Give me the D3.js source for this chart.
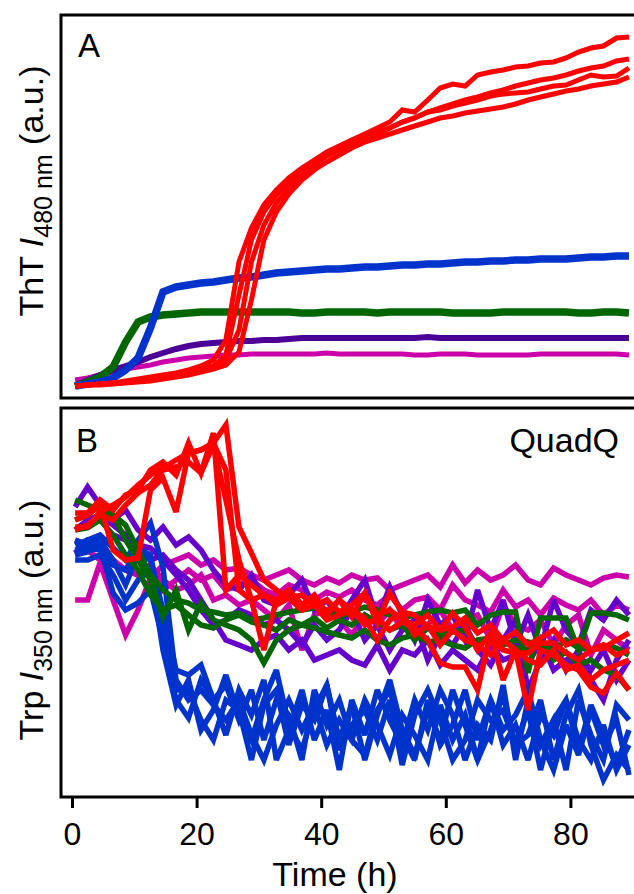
<!DOCTYPE html>
<html>
<head>
<meta charset="utf-8">
<script src="https://cdnjs.cloudflare.com/ajax/libs/d3/7.8.5/d3.min.js"></script>
<style>
  body { margin: 0; background: #fff; }
  svg { display: block; }
  text { font-family: "Liberation Sans", Arial, sans-serif; fill: #000; }
</style>
</head>
<body>
<svg id="chart" width="634" height="894"></svg>
<script>
// sampling times (h)
var times = [0.5, 2.5, 4.5, 6.6, 8.6, 10.6, 12.6, 14.6, 16.7, 18.7,
             20.7, 22.7, 24.7, 26.8, 28.8, 30.8, 32.8, 34.8, 36.9, 38.9,
             40.9, 42.9, 44.9, 47.0, 49.0, 51.0, 53.0, 55.0, 57.1, 59.1,
             61.1, 63.1, 65.1, 67.2, 69.2, 71.2, 73.2, 75.2, 77.3, 79.3,
             81.3, 83.3, 85.3, 87.4, 89.4];
var timeTicks = [0, 20, 40, 60, 80];

// ---- panel A: ThT fluorescence (a.u.)
var thtMagenta = [20, 22, 25, 28, 31, 33, 35, 38, 40, 42, 43, 44, 45, 45,
  46, 46, 46, 46, 46, 46, 47, 46, 46, 46, 46, 46, 46, 45, 45, 46, 46, 46, 45, 45, 45, 45, 45, 46, 46, 46, 46, 46, 46, 46, 45];
var thtPurple = [14, 20, 25, 30, 34, 38, 43, 47, 51, 54, 56, 57, 58, 59, 59, 60, 60, 61,
  62, 62, 62, 62, 62, 62, 62, 62, 62, 62, 63, 62, 62, 62, 62, 62, 62, 62, 62, 62, 62, 62, 62, 62, 62, 62, 62];
var thtGreen = [14, 18, 23, 33, 58, 78, 83, 85, 86, 87,
  88, 88, 88, 88, 88, 88, 88, 88, 87, 87, 88, 88, 88, 88, 87, 88, 88, 88, 88, 88,
  87, 87, 87, 87, 88, 88, 88, 88, 88, 88, 87, 87, 88, 88, 87];
var thtBlue = [14, 16, 18, 22, 30, 42, 72, 108, 113, 115, 117, 118, 120, 122, 123, 125, 127, 128, 129, 130,
  131, 131, 132, 133, 133, 134, 135, 135, 136, 136, 137, 138, 138, 139, 139, 140, 140, 141, 141, 141,
  142, 143, 143, 144, 144];
var thtRed1 = [14, 15, 16, 17, 19, 21, 23, 25, 27, 30, 34, 40, 60, 138, 172, 195, 210, 222, 232, 240,
  248, 254, 260, 266, 272, 278, 290, 288, 300, 312, 316, 314, 325, 328, 330, 333, 334, 337, 338, 342,
  348, 352, 354, 362, 363];
var thtRed2 = [14, 15, 16, 17, 18, 19, 21, 23, 25, 28, 31, 34, 45, 105, 160, 188, 205, 217, 228, 238,
  246, 252, 257, 263, 268, 272, 278, 282, 288, 292, 296, 300, 303, 307, 310, 314, 317, 320, 322, 325,
  329, 332, 334, 339, 341];
var thtRed3 = [14, 15, 16, 17, 18, 19, 20, 22, 24, 26, 29, 32, 40, 70, 138, 175, 197, 212, 224, 235,
  244, 250, 255, 260, 265, 272, 278, 282, 288, 290, 294, 297, 300, 304, 306, 307, 308, 311, 314, 315,
  320, 325, 323, 324, 332];
var thtRed4 = [14, 15, 15, 16, 17, 18, 19, 21, 23, 25, 28, 31, 35, 48, 100, 160, 188, 206, 220, 230,
  238, 245, 252, 258, 262, 266, 270, 274, 278, 282, 284, 287, 289, 291, 293, 296, 300, 303, 306, 309,
  311, 314, 316, 318, 323];

// ---- panel B: Trp fluorescence (a.u.)
var trpMagenta1 = [200, 200, 237, 200, 165, 190, 222, 235, 240, 245, 235, 240, 230, 232, 225, 220, 225, 230, 220, 215,
  222, 217, 225, 220, 222, 210, 215, 220, 225, 213, 235, 217, 230, 220, 225, 235, 220, 215, 232, 225,
  220, 215, 222, 225, 223];
var trpMagenta2 = [260, 255, 250, 240, 230, 225, 235, 210, 220, 230, 220, 225, 210, 215, 220, 210, 205, 215, 210, 200,
  208, 203, 210, 200, 195, 205, 190, 200, 203, 190, 215, 200, 195, 188, 210, 193, 200, 185, 202, 195,
  190, 200, 185, 195, 190];
var trpMagenta3 = [245, 250, 240, 235, 230, 225, 235, 220, 210, 215, 225, 200, 205, 195, 200, 190, 180, 195, 150, 185,
  190, 180, 165, 185, 175, 190, 170, 180, 175, 190, 170, 180, 185, 160, 195, 175, 170, 180, 155, 175,
  185, 145, 170, 160, 150];
var trpPurple1 = [293, 313, 295, 280, 290, 270, 260, 273, 255, 263, 250, 230, 215, 210, 225, 200, 195, 205, 220, 190,
  200, 180, 200, 220, 180, 213, 185, 160, 200, 175, 185, 160, 210, 170, 200, 155, 185, 150, 200, 170,
  155, 190, 180, 200, 185];
var trpPurple2 = [247, 260, 255, 265, 260, 250, 240, 245, 230, 220, 200, 180, 160, 155, 150, 160, 165, 150, 160, 140,
  145, 150, 140, 135, 155, 130, 150, 145, 160, 135, 150, 140, 130, 155, 140, 145, 135, 160, 130, 140,
  145, 130, 150, 120, 140];
var trpPurple3 = [270, 280, 285, 275, 265, 255, 252, 240, 225, 210, 190, 175, 180, 190, 185, 175, 180, 170, 155, 175,
  160, 170, 190, 160, 175, 150, 170, 180, 140, 165, 155, 175, 150, 135, 160, 180, 110, 140, 160, 130,
  150, 120, 100, 140, 160];
var trpBlue1 = [255, 260, 265, 252, 240, 260, 277, 233, 120, 100, 110, 95, 80, 100, 65, 40, 75, 100, 70, 95,
  55, 80, 60, 100, 75, 45, 85, 65, 40, 95, 60, 85, 40, 100, 55, 75, 40, 85, 65, 100,
  60, 40, 75, 30, 55];
var trpBlue2 = [245, 248, 255, 207, 190, 197, 210, 160, 100, 82, 120, 100, 65, 110, 85, 120, 40, 70, 110, 60,
  90, 30, 100, 65, 110, 80, 55, 100, 70, 110, 85, 40, 75, 60, 115, 40, 100, 55, 80, 30,
  100, 65, 40, 95, 80];
var trpBlue3 = [260, 255, 260, 240, 215, 245, 240, 190, 130, 125, 135, 100, 115, 80, 110, 60, 100, 85, 40, 110,
  75, 100, 60, 45, 90, 110, 65, 40, 100, 55, 75, 110, 60, 100, 70, 85, 110, 60, 30, 75,
  45, 90, 55, 80, 25];
var trpBlue4 = [240, 240, 245, 225, 200, 220, 230, 150, 95, 120, 70, 90, 125, 85, 60, 100, 130, 75, 50, 90,
  115, 60, 95, 40, 85, 120, 70, 45, 90, 60, 110, 75, 40, 70, 105, 55, 90, 30, 80, 100,
  50, 95, 65, 35, 70];
var trpBlue5 = [250, 252, 250, 235, 230, 252, 245, 180, 110, 110, 80, 60, 100, 90, 40, 95, 110, 55, 95, 80,
  115, 50, 75, 90, 60, 100, 35, 85, 110, 80, 40, 60, 100, 80, 90, 55, 65, 100, 40, 85,
  110, 55, 20, 45, 30];
var trpGreen1 = [300, 295, 290, 285, 275, 250, 225, 210, 200, 197, 190, 188, 185, 187, 180, 182, 185, 188, 190, 192,
  188, 183, 188, 193, 190, 185, 182, 185, 188, 190, 187, 190, 175, 185, 188, 188, 127, 182, 182, 182,
  150, 187, 187, 185, 180];
var trpGreen2 = [280, 285, 295, 285, 260, 240, 220, 183, 210, 170, 197, 180, 175, 170, 160, 137, 160, 170, 175, 172,
  168, 165, 162, 170, 160, 155, 162, 165, 158, 160, 155, 152, 160, 162, 155, 160, 158, 155, 150, 160,
  152, 150, 155, 152, 145];
var trpGreen3 = [270, 272, 280, 265, 245, 230, 205, 190, 195, 185, 175, 172, 180, 185, 178, 175, 170, 180, 175, 182,
  172, 180, 175, 185, 178, 170, 175, 160, 172, 165, 168, 170, 155, 162, 160, 152, 150, 160, 140, 148,
  135, 140, 130, 125, 110];
var trpRed1 = [273, 273, 288, 295, 303, 315, 325, 332, 340, 347, 350, 357, 375, 273, 247, 220, 210, 202, 205, 195,
  200, 188, 195, 207, 185, 190, 180, 175, 185, 170, 173, 182, 167, 175, 160, 168, 155, 162, 170, 155,
  160, 150, 155, 145, 150];
var trpRed2 = [287, 287, 300, 290, 305, 310, 330, 338, 325, 357, 327, 367, 210, 225, 215, 205, 200, 210, 195, 202,
  188, 200, 183, 207, 177, 207, 188, 185, 173, 170, 187, 173, 150, 167, 150, 147, 147, 157, 157, 147,
  140, 150, 152, 160, 167];
var trpRed3 = [280, 285, 295, 250, 240, 242, 310, 322, 288, 347, 350, 357, 330, 210, 200, 205, 195, 202, 190, 195,
  180, 185, 190, 175, 182, 170, 178, 172, 160, 137, 133, 133, 110, 167, 120, 150, 90, 150, 145, 135,
  130, 113, 107, 127, 110];
var trpRed4 = [270, 275, 285, 280, 295, 307, 315, 330, 333, 338, 327, 355, 300, 240, 200, 150, 200, 210, 195, 205,
  185, 200, 190, 182, 160, 180, 187, 165, 175, 155, 170, 160, 155, 145, 160, 150, 140, 135, 150, 130,
  135, 120, 130, 135, 140];

var RED = '#ff0000', BLUE = '#0033cc', GREEN = '#006600',
    PURPLE_A = '#4b0096', PURPLE_B = '#6600cc', MAGENTA = '#cc00aa';

var panelA = [
  { color: MAGENTA, w: 5, values: thtMagenta },
  { color: PURPLE_A, w: 6, values: thtPurple },
  { color: GREEN, w: 7.5, values: thtGreen },
  { color: BLUE, w: 7.5, values: thtBlue },
  { color: RED, w: 5, values: thtRed1 },
  { color: RED, w: 5, values: thtRed2 },
  { color: RED, w: 5, values: thtRed3 },
  { color: RED, w: 5, values: thtRed4 }
];
var panelB = [
  { color: MAGENTA, w: 5.5, values: trpMagenta1 },
  { color: MAGENTA, w: 5.5, values: trpMagenta2 },
  { color: MAGENTA, w: 5.5, values: trpMagenta3 },
  { color: PURPLE_B, w: 5.5, values: trpPurple1 },
  { color: PURPLE_B, w: 5.5, values: trpPurple2 },
  { color: PURPLE_B, w: 5.5, values: trpPurple3 },
  { color: BLUE, w: 5.5, values: trpBlue1 },
  { color: BLUE, w: 5.5, values: trpBlue2 },
  { color: BLUE, w: 5.5, values: trpBlue3 },
  { color: BLUE, w: 5.5, values: trpBlue4 },
  { color: BLUE, w: 5.5, values: trpBlue5 },
  { color: GREEN, w: 5.5, values: trpGreen1 },
  { color: GREEN, w: 5.5, values: trpGreen2 },
  { color: GREEN, w: 5.5, values: trpGreen3 },
  { color: RED, w: 5.5, values: trpRed1 },
  { color: RED, w: 5.5, values: trpRed2 },
  { color: RED, w: 5.5, values: trpRed3 },
  { color: RED, w: 5.5, values: trpRed4 }
];

var svg = d3.select('#chart');
var left = 61, right = 700;

var x = d3.scaleLinear().domain([0, 90]).range([72, 632.7]);
var yA = d3.scaleLinear().domain([1, 387]).range([399, 13]);
var yB = d3.scaleLinear().domain([3, 393]).range([797, 407]);

function drawLines(series, y) {
  var line = d3.line()
    .x(function (d, i) { return x(times[i]); })
    .y(function (d) { return y(d); });
  svg.append('g').selectAll('path')
    .data(series)
    .enter()
    .append('path')
    .attr('d', function (s) { return line(s.values); })
    .attr('fill', 'none')
    .attr('stroke', function (s) { return s.color; })
    .attr('stroke-width', function (s) { return s.w; })
    .attr('stroke-miterlimit', 3);
}

drawLines(panelA, yA);
drawLines(panelB, yB);

// frames
svg.append('rect').attr('x', left).attr('y', 15).attr('width', right - left).attr('height', 383)
  .attr('fill', 'none').attr('stroke', '#000').attr('stroke-width', 3);
svg.append('rect').attr('x', left).attr('y', 408).attr('width', right - left).attr('height', 389)
  .attr('fill', 'none').attr('stroke', '#000').attr('stroke-width', 3);

// time axis
var xAxis = d3.axisBottom(x).tickValues(timeTicks).tickSize(11).tickSizeOuter(0).tickPadding(14);
var ax = svg.append('g').attr('transform', 'translate(0,797)').call(xAxis);
ax.select('.domain').remove();
ax.selectAll('.tick line').attr('stroke', '#000').attr('stroke-width', 3);
ax.selectAll('.tick text').attr('font-family', '"Liberation Sans", Arial, sans-serif')
  .style('font-size', '32px').attr('fill', '#000');

svg.append('text').attr('x', 335).attr('y', 886).attr('text-anchor', 'middle')
  .style('font-size', '34px').text('Time (h)');

// panel letters
svg.append('text').attr('x', 78).attr('y', 57).style('font-size', '33px').text('A');
svg.append('text').attr('x', 76).attr('y', 452).style('font-size', '33px').text('B');
svg.append('text').attr('x', 619).attr('y', 452).attr('text-anchor', 'end')
  .style('font-size', '34px').text('QuadQ');

// y labels
function yLabel(cx, cy, name, sub) {
  var t = svg.append('text').attr('transform', 'translate(' + cx + ',' + cy + ') rotate(-90)')
    .attr('text-anchor', 'middle').style('font-size', '34px');
  t.append('tspan').text(name + ' ');
  t.append('tspan').style('font-style', 'italic').text('I');
  t.append('tspan').attr('dy', 9).style('font-size', '25px').text(sub);
  t.append('tspan').attr('dy', -9).text(' (a.u.)');
}
yLabel(43, 191, 'ThT', '480 nm');
yLabel(43, 620, 'Trp', '350 nm');
</script>
</body>
</html>
